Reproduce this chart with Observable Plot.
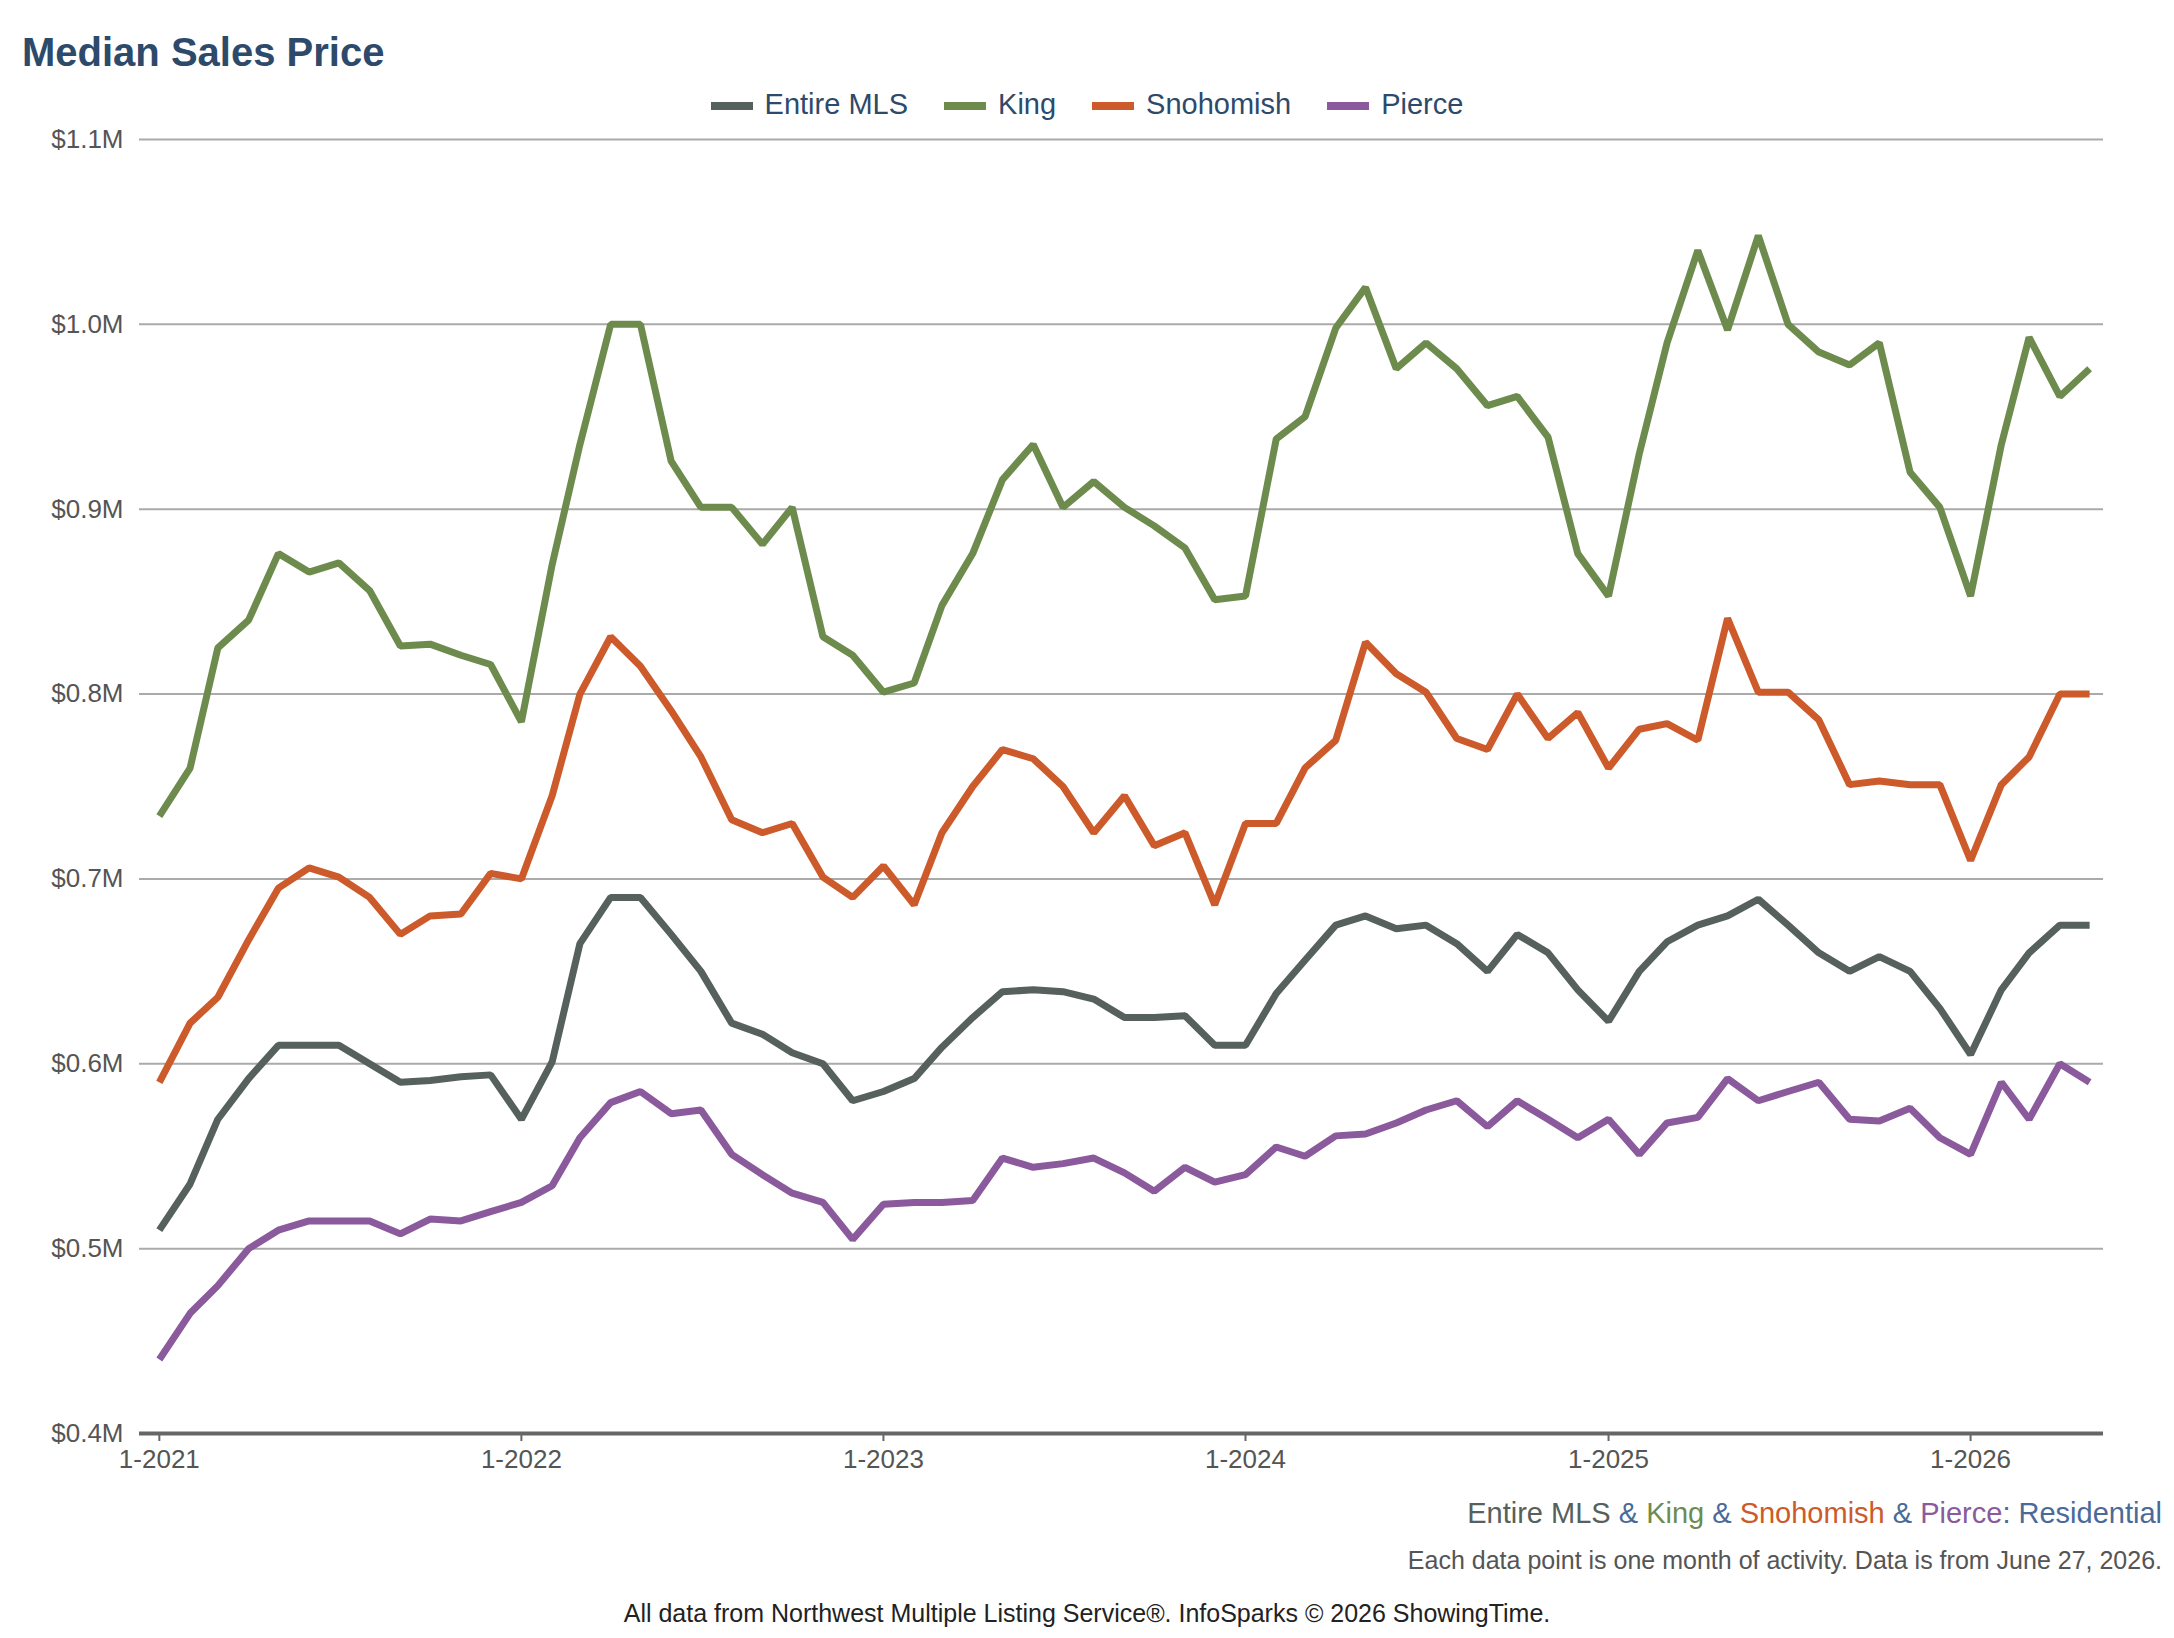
<!DOCTYPE html>
<html><head><meta charset="utf-8">
<script src="https://cdn.jsdelivr.net/npm/d3@7"></script>
<script src="https://cdn.jsdelivr.net/npm/@observablehq/plot@0.6"></script>
<style>
body{margin:0;width:2174px;height:1638px;font-family:"Liberation Sans",Arial,sans-serif;background:#fff;position:relative}
#title{position:absolute;left:22px;top:30px;font-size:40px;font-weight:bold;color:#2e4a6b}
#legend{position:absolute;top:88px;left:0;width:2174px;text-align:center;font-size:29px;color:#2e4a6b}
#legend span{margin:0 18px;white-space:nowrap}
#legend i{display:inline-block;width:42px;height:8px;vertical-align:middle;margin-right:12px}
#chart{position:absolute;top:119px;left:0}
.f{position:absolute;font-size:25px;color:#555}
</style></head><body>
<div id="title">Median Sales Price</div>
<div id="legend"></div>
<div id="chart"></div>
<div class="f" style="right:12px;top:1497px;font-size:29px"><span style="color:#56605c">Entire MLS</span> <span style="color:#4a6a9a">&amp;</span> <span style="color:#6e8b4e">King</span> <span style="color:#4a6a9a">&amp;</span> <span style="color:#cc5a2a">Snohomish</span> <span style="color:#4a6a9a">&amp;</span> <span style="color:#8a5a9c">Pierce</span><span style="color:#4a6a9a">: Residential</span></div>
<div class="f" style="right:12px;top:1546px">Each data point is one month of activity. Data is from June 27, 2026.</div>
<div class="f" style="left:0;width:2174px;text-align:center;top:1599px;color:#222">All data from Northwest Multiple Listing Service®. InfoSparks © 2026 ShowingTime.</div>
<script>
const seriesNames=["Entire MLS","King","Snohomish","Pierce"];
const colors=["#56605c","#6e8b4e","#cc5a2a","#8a5a9c"];
const entireMLS=[510,535,570,592,610,610,610,600,590,591,593,594,
570,601,665,690,690,670,650,622,616,606,600,580,
585,592,609,625,639,640,639,635,625,625,626,610,
610,638,656,675,680,673,675,665,650,670,660,640,
623,650,666,675,680,689,675,660,650,658,650,630,
605,640,660,675,675];
const king=[734,760,825,840,876,866,871,856,826,827,821,816,
785,870,935,1000,1000,926,901,901,881,901,831,821,
801,806,848,876,916,935,901,915,901,891,879,851,
853,938,950,998,1020,976,990,976,956,961,939,876,
853,930,990,1040,997,1048,1000,985,978,990,920,901,
853,935,993,961,976];
const snohomish=[590,622,636,667,695,706,701,690,670,680,681,703,
700,745,800,831,815,791,766,732,725,730,701,690,
707,686,725,750,770,765,750,725,745,718,725,686,
730,730,760,775,828,811,801,776,770,800,776,790,
760,781,784,775,841,801,801,786,751,753,751,751,
710,751,766,800,800];
const pierce=[440,465,480,500,510,515,515,515,508,516,515,520,
525,534,560,579,585,573,575,551,540,530,525,505,
524,525,525,526,549,544,546,549,541,531,544,536,
540,555,550,561,562,568,575,580,566,580,570,560,
570,551,568,571,592,580,585,590,570,569,576,560,
551,590,570,600,590];
const yTicks=[400,500,600,700,800,900,1000,1100];
const xTicks=[2021,2022,2023,2024,2025,2026].map(y=>new Date(y,0,1));
const all=[entireMLS,king,snohomish,pierce];
const data=[];
all.forEach((arr,s)=>arr.forEach((v,i)=>data.push({series:seriesNames[s],date:new Date(2021,i,1),value:v})));
document.getElementById("legend").innerHTML=seriesNames.map((n,i)=>`<span><i style="background:${colors[i]}"></i>${n}</span>`).join("");
const yf=d=>"$"+(d/1000).toFixed(1)+"M";
const chart=Plot.plot({
  width:2174,height:1364,marginLeft:139,marginRight:71,marginTop:20,marginBottom:50,
  style:{fontFamily:"Liberation Sans, Arial, sans-serif",fontSize:"26px",color:"#555"},
  x:{type:"utc",domain:[new Date(2020,11,12),new Date(2026,4,15)],label:null},
  y:{domain:[400,1100],label:null},
  color:{domain:seriesNames,range:colors},
  marks:[
    Plot.gridY(yTicks,{stroke:"#aaa",strokeOpacity:1,strokeWidth:2}),
    Plot.axisY({ticks:yTicks,tickFormat:yf,tickSize:0,tickPadding:16,label:null,fontSize:26,fill:"#555"}),
    Plot.axisX({ticks:xTicks,tickFormat:d=>"1-"+d.getFullYear(),tickSize:8,tickPadding:8,label:null,stroke:"#666",strokeWidth:2,fontSize:26,fill:"#555"}),
    Plot.ruleY([400],{stroke:"#666",strokeWidth:4}),
    Plot.line(data,{x:"date",y:"value",z:"series",stroke:"series",strokeWidth:7,strokeLinejoin:"miter",strokeLinecap:"butt"})
  ]
});
document.getElementById("chart").appendChild(chart);
</script>
</body></html>
